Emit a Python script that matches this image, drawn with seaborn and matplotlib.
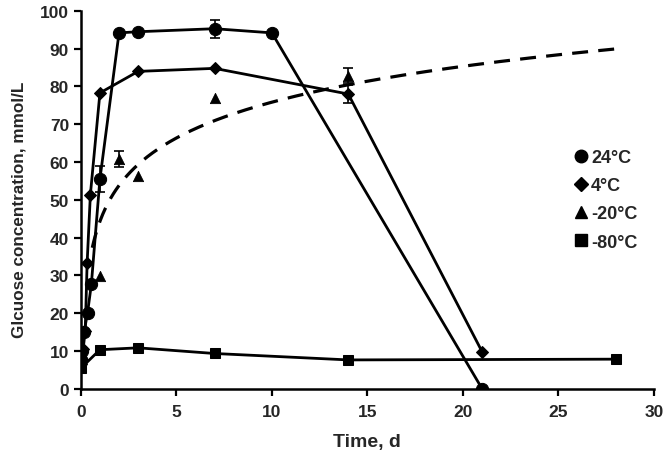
import numpy as np
import pandas as pd
import matplotlib
matplotlib.use("Agg")
import matplotlib.pyplot as plt
import seaborn as sns
from matplotlib.lines import Line2D

# ---- data ----
t_24 = [0, 0.08, 0.17, 0.35, 0.55, 1, 2, 3, 7, 10, 21]
g_24 = [7.5, 10.0, 15.0, 20.0, 27.6, 55.5, 94.2, 94.5, 95.3, 94.2, 0.0]
e_24 = [0, 0, 0, 0, 0, 3.5, 0, 0, 2.4, 0, 0]

t_4 = [0, 0.12, 0.23, 0.33, 0.5, 1, 3, 7, 14, 21]
g_4 = [6.5, 10.5, 15.2, 33.3, 51.4, 78.3, 84.0, 84.8, 78.0, 9.8]
e_4 = [0, 0, 0, 0, 0, 0, 0, 0, 2.4, 0]

t_m20 = [0, 0.1, 1, 2, 3, 7, 14]
g_m20 = [6.0, 9.0, 29.7, 60.8, 56.2, 77.0, 82.8]
e_m20 = [0, 0, 0, 2.0, 0, 0, 2.0]

t_m80 = [0, 1, 3, 7, 14, 28]
g_m80 = [5.4, 10.3, 10.8, 9.3, 7.6, 7.8]

# logarithmic trendline of the -20 °C series: y = a*ln(t) + b
trend_a = 13.7
trend_b = 44.3
trend_t_min = 0.6
trend_t_max = 28

series_labels = ["24°C", "4°C", "-20°C", "-80°C"]
x_ticks = [0, 5, 10, 15, 20, 25, 30]
y_ticks = list(range(0, 101, 10))

# ---- style ----
sns.set_style("ticks")
plt.rcParams["font.family"] = ["Liberation Sans", "DejaVu Sans"]
plt.rcParams["font.weight"] = "bold"

fig = plt.figure(figsize=(6.68, 4.60), dpi=100)
ax = fig.add_axes([0.121, 0.153, 0.858, 0.821])

df24 = pd.DataFrame({"t": t_24, "g": g_24})
df4 = pd.DataFrame({"t": t_4, "g": g_4})
dfm20 = pd.DataFrame({"t": t_m20, "g": g_m20})
dfm80 = pd.DataFrame({"t": t_m80, "g": g_m80})

tt = np.linspace(trend_t_min, trend_t_max, 400)
dftr = pd.DataFrame({"t": tt, "g": trend_a * np.log(tt) + trend_b})
sns.lineplot(data=dftr, x="t", y="g", ax=ax, color="black", lw=2.3,
             linestyle=(0, (5, 3.2)), estimator=None, sort=False, zorder=2)

sns.lineplot(data=df24, x="t", y="g", ax=ax, color="black", lw=2.0,
             marker="o", markersize=8.8, markeredgecolor="black",
             estimator=None, sort=False, zorder=3)
sns.lineplot(data=df4, x="t", y="g", ax=ax, color="black", lw=2.0,
             marker="D", markersize=6.5, markeredgecolor="black",
             estimator=None, sort=False, zorder=3)
sns.lineplot(data=dfm80, x="t", y="g", ax=ax, color="black", lw=2.0,
             marker="s", markersize=7.5, markeredgecolor="black",
             estimator=None, sort=False, zorder=3)
sns.scatterplot(data=dfm20, x="t", y="g", ax=ax, color="black",
                marker="^", s=55, edgecolor="black", zorder=4)

for tx, gy, ee in [(t_24, g_24, e_24), (t_4, g_4, e_4), (t_m20, g_m20, e_m20)]:
    tx = np.array(tx); gy = np.array(gy); ee = np.array(ee)
    m = ee > 0
    ax.errorbar(tx[m], gy[m], yerr=ee[m], fmt="none", ecolor="black",
                elinewidth=1.2, capsize=3.5, capthick=1.2, zorder=5)

# legend (markers only)
handles = [
    Line2D([], [], ls="none", marker="o", color="black", markersize=9),
    Line2D([], [], ls="none", marker="D", color="black", markersize=7),
    Line2D([], [], ls="none", marker="^", color="black", markersize=8),
    Line2D([], [], ls="none", marker="s", color="black", markersize=8),
]
leg = ax.legend(handles, series_labels, loc="center left",
                bbox_to_anchor=(0.835, 0.50), frameon=False,
                handlelength=0.6, handletextpad=0.25, labelspacing=0.62,
                prop={"weight": "bold", "size": 13})

ax.set_xlim(0, 30)
ax.set_ylim(0, 100)
ax.set_xticks(x_ticks)
ax.set_yticks(y_ticks)
ax.tick_params(axis="both", labelsize=12.5, width=1.6, length=5, color="black")
ax.tick_params(axis="x", pad=6)
for lab in ax.get_xticklabels() + ax.get_yticklabels():
    lab.set_fontweight("bold")
for s in ["left", "bottom"]:
    ax.spines[s].set_linewidth(1.8)
    ax.spines[s].set_color("black")
sns.despine(ax=ax)

ax.set_xlabel("Time, d", fontsize=14, fontweight="bold", labelpad=10)
ax.set_ylabel("Glcuose concentration, mmol/L", fontsize=12.3, fontweight="bold",
              labelpad=9, family=["Liberation Sans Narrow", "Liberation Sans"])
ax.yaxis.set_label_coords(-0.094, 0.475)

fig.savefig("out.png", dpi=100)
